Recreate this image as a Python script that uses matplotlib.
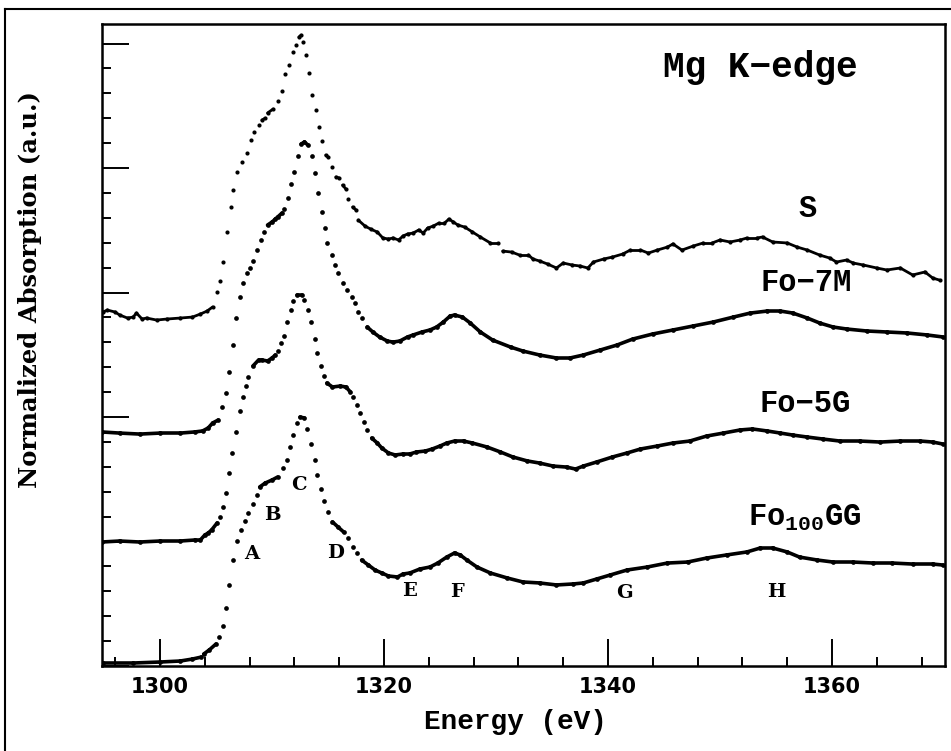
import numpy as np
import matplotlib
matplotlib.use('Agg')
import matplotlib.pyplot as plt
from matplotlib.collections import LineCollection
from matplotlib.lines import Line2D
from matplotlib.ticker import MultipleLocator, NullFormatter

# spectra (energy in eV, normalized absorption, offset)
energy_s = [1294.9, 1295.3, 1296.0, 1296.4, 1297.1, 1297.6, 1297.9, 1298.4, 1298.8, 1299.7,
            1300.6, 1301.8, 1302.9, 1303.6, 1304.2, 1304.7, 1305.1, 1305.4, 1305.6, 1306.0,
            1306.3, 1306.5, 1306.9, 1307.3, 1307.8, 1308.1, 1308.4, 1308.8, 1309.1, 1309.4,
            1309.6, 1310.1, 1310.5, 1310.9, 1311.2, 1311.5, 1311.9, 1312.1, 1312.4, 1312.6,
            1312.8, 1313.0, 1313.3, 1313.6, 1313.9, 1314.2, 1314.5, 1314.8, 1315.0, 1315.4,
            1315.7, 1316.0, 1316.3, 1316.6, 1316.8, 1317.2, 1317.5, 1317.7, 1318.3, 1318.8,
            1319.4, 1319.9, 1320.4, 1320.8, 1321.3, 1321.7, 1322.1, 1322.6, 1323.1, 1323.5,
            1323.9, 1324.4, 1324.9, 1325.4, 1325.8, 1326.2, 1326.6, 1327.2, 1327.9, 1328.6,
            1329.5, 1330.2, 1330.6, 1331.4, 1332.1, 1332.9, 1333.3, 1333.9, 1334.6, 1335.4,
            1336.0, 1336.8, 1337.5, 1338.2, 1338.7, 1339.6, 1340.4, 1341.3, 1342.0, 1342.9,
            1343.6, 1344.4, 1345.3, 1345.8, 1346.6, 1347.6, 1348.5, 1349.3, 1350.0, 1350.9,
            1351.8, 1352.4, 1353.3, 1353.8, 1354.7, 1356.0, 1356.9, 1357.8, 1358.9, 1359.8,
            1360.4, 1361.3, 1361.9, 1362.8, 1364.0, 1364.9, 1366.1, 1367.2, 1368.3, 1369.0,
            1369.6]
absorb_s = [2.843, 2.859, 2.843, 2.819, 2.795, 2.803, 2.835, 2.787, 2.795, 2.779,
            2.787, 2.795, 2.803, 2.827, 2.851, 2.884, 3.004, 3.092, 3.245, 3.486,
            3.687, 3.823, 3.968, 4.048, 4.120, 4.225, 4.289, 4.345, 4.385, 4.401,
            4.442, 4.474, 4.538, 4.618, 4.755, 4.827, 4.932, 4.988, 5.052, 5.068,
            5.012, 4.908, 4.763, 4.586, 4.466, 4.329, 4.217, 4.104, 4.088, 4.008,
            3.928, 3.920, 3.863, 3.831, 3.751, 3.687, 3.663, 3.582, 3.534, 3.510,
            3.486, 3.438, 3.430, 3.438, 3.422, 3.454, 3.470, 3.478, 3.502, 3.478,
            3.518, 3.534, 3.558, 3.558, 3.590, 3.566, 3.542, 3.526, 3.486, 3.446,
            3.398, 3.398, 3.333, 3.325, 3.301, 3.301, 3.269, 3.253, 3.229, 3.197,
            3.237, 3.221, 3.213, 3.197, 3.245, 3.269, 3.285, 3.309, 3.341, 3.341,
            3.317, 3.341, 3.365, 3.390, 3.341, 3.373, 3.398, 3.398, 3.422, 3.406,
            3.422, 3.438, 3.438, 3.446, 3.406, 3.398, 3.365, 3.341, 3.301, 3.277,
            3.245, 3.261, 3.237, 3.221, 3.197, 3.181, 3.197, 3.141, 3.165, 3.116,
            3.100]

energy_7m = [1294.8, 1296.4, 1298.2, 1300.0, 1301.8, 1303.1, 1303.8, 1304.3, 1304.7, 1305.2,
             1305.5, 1305.9, 1306.2, 1306.5, 1306.8, 1307.1, 1307.4, 1307.8, 1308.0, 1308.3,
             1308.7, 1309.0, 1309.3, 1309.6, 1310.0, 1310.3, 1310.5, 1310.9, 1311.1, 1311.4,
             1311.7, 1312.0, 1312.3, 1312.6, 1312.9, 1313.2, 1313.6, 1313.8, 1314.1, 1314.5,
             1314.7, 1314.9, 1315.4, 1315.6, 1315.9, 1316.3, 1316.7, 1317.1, 1317.4, 1317.7,
             1318.0, 1318.5, 1319.0, 1319.6, 1320.3, 1320.8, 1321.4, 1322.1, 1322.6, 1323.4,
             1324.1, 1324.7, 1325.3, 1325.9, 1326.3, 1327.0, 1327.7, 1328.6, 1329.7, 1331.3,
             1332.4, 1333.9, 1335.4, 1336.6, 1337.8, 1339.3, 1340.8, 1342.2, 1344.0, 1345.8,
             1347.6, 1349.4, 1351.2, 1352.7, 1354.2, 1355.4, 1356.5, 1357.8, 1358.9, 1360.1,
             1361.3, 1363.1, 1364.9, 1366.7, 1368.5, 1369.9]
absorb_7m = [1.880, 1.871, 1.863, 1.871, 1.871, 1.880, 1.888, 1.912, 1.952, 1.976,
             2.080, 2.193, 2.361, 2.578, 2.795, 2.964, 3.076, 3.157, 3.197, 3.253,
             3.341, 3.422, 3.486, 3.542, 3.566, 3.590, 3.606, 3.639, 3.671, 3.759,
             3.871, 3.968, 4.096, 4.193, 4.209, 4.185, 4.096, 3.960, 3.799, 3.647,
             3.518, 3.398, 3.301, 3.221, 3.157, 3.076, 3.020, 2.964, 2.916, 2.843,
             2.795, 2.723, 2.683, 2.643, 2.610, 2.602, 2.610, 2.643, 2.659, 2.683,
             2.699, 2.723, 2.763, 2.811, 2.819, 2.803, 2.755, 2.683, 2.618, 2.562,
             2.530, 2.498, 2.474, 2.474, 2.498, 2.538, 2.578, 2.626, 2.667, 2.699,
             2.731, 2.763, 2.803, 2.835, 2.851, 2.851, 2.835, 2.795, 2.755, 2.723,
             2.707, 2.691, 2.683, 2.675, 2.659, 2.643]

energy_5g = [1294.8, 1296.4, 1298.2, 1300.0, 1301.8, 1303.1, 1303.6, 1304.0, 1304.3, 1304.6,
             1305.1, 1305.4, 1305.6, 1305.9, 1306.2, 1306.4, 1306.8, 1307.1, 1307.4, 1307.7,
             1307.9, 1308.3, 1308.8, 1309.1, 1309.6, 1310.0, 1310.3, 1310.5, 1310.8, 1311.1,
             1311.3, 1311.7, 1311.9, 1312.2, 1312.7, 1312.9, 1313.2, 1313.5, 1313.8, 1314.0,
             1314.4, 1314.6, 1314.9, 1315.4, 1316.1, 1316.6, 1317.0, 1317.2, 1317.6, 1317.9,
             1318.2, 1318.5, 1318.9, 1319.4, 1319.8, 1320.4, 1321.0, 1321.7, 1322.3, 1322.9,
             1323.7, 1324.3, 1325.0, 1325.6, 1326.3, 1327.1, 1327.9, 1329.2, 1330.4, 1331.5,
             1332.8, 1333.9, 1335.1, 1336.3, 1337.1, 1337.8, 1339.0, 1340.4, 1341.7, 1342.9,
             1344.4, 1345.8, 1347.3, 1348.8, 1350.3, 1351.8, 1352.9, 1354.2, 1355.4, 1356.5,
             1357.8, 1359.2, 1360.7, 1362.5, 1364.3, 1366.1, 1367.9, 1369.0, 1369.9]
absorb_5g = [0.996, 1.004, 0.996, 1.004, 1.004, 1.012, 1.012, 1.052, 1.068, 1.092,
             1.149, 1.197, 1.277, 1.390, 1.550, 1.711, 1.880, 2.048, 2.161, 2.249,
             2.321, 2.410, 2.458, 2.458, 2.450, 2.474, 2.498, 2.530, 2.594, 2.651,
             2.763, 2.859, 2.932, 2.980, 2.980, 2.940, 2.859, 2.763, 2.626, 2.514,
             2.410, 2.329, 2.273, 2.241, 2.249, 2.241, 2.201, 2.161, 2.096, 2.032,
             1.960, 1.896, 1.831, 1.791, 1.751, 1.711, 1.695, 1.703, 1.703, 1.719,
             1.727, 1.743, 1.767, 1.791, 1.807, 1.807, 1.791, 1.759, 1.719, 1.679,
             1.647, 1.630, 1.606, 1.598, 1.582, 1.606, 1.639, 1.679, 1.711, 1.743,
             1.767, 1.791, 1.807, 1.847, 1.871, 1.896, 1.904, 1.888, 1.871, 1.855,
             1.839, 1.823, 1.807, 1.807, 1.799, 1.807, 1.807, 1.799, 1.783]

energy_gg = [1294.9, 1297.6, 1300.0, 1301.8, 1302.9, 1303.7, 1303.9, 1304.4, 1305.0, 1305.3,
             1305.6, 1305.9, 1306.2, 1306.5, 1306.9, 1307.2, 1307.6, 1307.9, 1308.3, 1308.7,
             1308.9, 1309.4, 1310.0, 1310.5, 1311.0, 1311.3, 1311.6, 1311.9, 1312.2, 1312.5,
             1312.9, 1313.1, 1313.5, 1313.8, 1314.0, 1314.4, 1314.6, 1315.0, 1315.4, 1315.9,
             1316.4, 1316.8, 1317.2, 1317.6, 1318.0, 1318.6, 1319.2, 1319.8, 1320.4, 1321.2,
             1321.7, 1322.3, 1323.2, 1324.1, 1324.8, 1325.6, 1326.3, 1326.8, 1327.4, 1328.3,
             1329.5, 1331.0, 1332.4, 1333.9, 1335.4, 1336.9, 1337.8, 1339.0, 1340.2, 1341.7,
             1343.5, 1345.3, 1347.1, 1348.8, 1350.6, 1352.4, 1353.6, 1354.7, 1356.0, 1357.1,
             1358.7, 1360.1, 1361.9, 1363.7, 1365.4, 1367.2, 1369.0, 1369.9]
absorb_gg = [0.024, 0.024, 0.032, 0.040, 0.056, 0.072, 0.096, 0.129, 0.177, 0.233,
             0.321, 0.466, 0.651, 0.851, 1.004, 1.092, 1.165, 1.229, 1.301, 1.373,
             1.438, 1.470, 1.494, 1.518, 1.590, 1.655, 1.759, 1.855, 1.952, 2.000,
             1.992, 1.904, 1.783, 1.655, 1.534, 1.422, 1.325, 1.237, 1.157, 1.116,
             1.076, 1.028, 0.956, 0.908, 0.851, 0.811, 0.771, 0.747, 0.723, 0.715,
             0.739, 0.747, 0.779, 0.795, 0.827, 0.875, 0.908, 0.892, 0.851, 0.795,
             0.747, 0.707, 0.675, 0.667, 0.651, 0.659, 0.667, 0.699, 0.731, 0.771,
             0.795, 0.827, 0.835, 0.867, 0.892, 0.916, 0.948, 0.948, 0.916, 0.875,
             0.851, 0.835, 0.835, 0.827, 0.827, 0.819, 0.819, 0.811]

major_ticks = [1300, 1320, 1340, 1360]

curve_names = ['S', 'Fo\u2212' + '7M', 'Fo\u2212' + '5G', r'Fo$_{100}$GG']
name_x = [1357.8, 1357.7, 1357.6, 1357.6]
name_y = [3.671, 3.076, 2.104, 1.190]

feature_letters = ['A', 'B', 'C', 'D', 'E', 'F', 'G', 'H']
feature_x = [1308.2, 1310.0, 1312.4, 1315.7, 1322.3, 1326.5, 1341.5, 1355.0]
feature_y = [0.900, 1.213, 1.454, 0.908, 0.602, 0.594, 0.586, 0.594]

plt.rcParams['mathtext.fontset'] = 'custom'
plt.rcParams['mathtext.rm'] = 'Liberation Mono:bold'
plt.rcParams['mathtext.it'] = 'Liberation Mono:bold'
plt.rcParams['mathtext.bf'] = 'Liberation Mono:bold'


def draw_spectrum(ax, e, a, lw, ms):
    """points where the edge is steep stay as dots, flat parts merge into a line"""
    e = np.asarray(e)
    a = np.asarray(a)
    pix = ax.transData.transform(np.column_stack([e, a]))
    dx = np.diff(pix[:, 0])
    dy = np.diff(pix[:, 1])
    flat = np.abs(dy) <= 1.3 * np.abs(dx)
    segs = [[(e[i], a[i]), (e[i + 1], a[i + 1])] for i in np.where(flat)[0]]
    ax.add_collection(LineCollection(segs, colors='black', linewidths=lw,
                                     capstyle='round', joinstyle='round'))
    ax.plot(e, a, 'o', color='black', ms=ms, mew=0)


fig = plt.figure(figsize=(9.51, 7.51), dpi=100)
ax = fig.add_axes([102 / 951, 85 / 751, 843 / 951, 642 / 751])
ax.set_xlim(1294.82, 1370.09)
ax.set_ylim(0, 5.157)

for side in ['left', 'right', 'top', 'bottom']:
    ax.spines[side].set_linewidth(1.8)

ax.xaxis.set_major_locator(MultipleLocator(20))
ax.xaxis.set_minor_locator(MultipleLocator(4))
ax.yaxis.set_major_locator(MultipleLocator(1))
ax.yaxis.set_minor_locator(MultipleLocator(0.2))
ax.yaxis.set_major_formatter(NullFormatter())
ax.tick_params(which='major', direction='in', length=19.5, width=1.4)
ax.tick_params(which='minor', direction='in', length=6.5, width=1.4)
ax.tick_params(axis='x', which='major', pad=8, labelsize=15)
ax.set_xticks(major_ticks)
ax.set_xticklabels([str(t) for t in major_ticks], fontweight='bold')

draw_spectrum(ax, energy_s, absorb_s, lw=2.0, ms=3.0)
draw_spectrum(ax, energy_7m, absorb_7m, lw=2.6, ms=3.4)
draw_spectrum(ax, energy_5g, absorb_5g, lw=2.6, ms=3.4)
draw_spectrum(ax, energy_gg, absorb_gg, lw=2.6, ms=3.4)

mono = ['Liberation Mono', 'DejaVu Sans Mono']
ax.text(1353.6, 4.811, 'Mg K\u2212edge', family=mono, fontweight='bold', fontsize=26,
        ha='center', va='center')
for name, x, y in zip(curve_names, name_x, name_y):
    ax.text(x, y, name, family=mono, fontweight='bold', fontsize=22,
            ha='center', va='center')
for lt, x, y in zip(feature_letters, feature_x, feature_y):
    ax.text(x, y, lt, family='DejaVu Serif', fontweight='bold', fontsize=14,
            ha='center', va='center')

fig.text(515 / 951, 1 - 722 / 751, 'Energy (eV)', family=mono, fontweight='bold',
         fontsize=20, ha='center', va='center')
fig.text(30 / 951, 1 - 290 / 751, 'Normalized Absorption (a.u.)',
         family='DejaVu Serif', fontweight='bold', fontsize=17.5, rotation=90,
         ha='center', va='center')

# scanned page frame (left and top edges visible)
fig.add_artist(Line2D([5 / 951, 5 / 951], [0, 1 - 9 / 751], transform=fig.transFigure,
                      color='black', lw=1.5))
fig.add_artist(Line2D([5 / 951, 1], [1 - 9 / 751, 1 - 9 / 751], transform=fig.transFigure,
                      color='black', lw=1.5))

fig.savefig('out.png', dpi=100)
